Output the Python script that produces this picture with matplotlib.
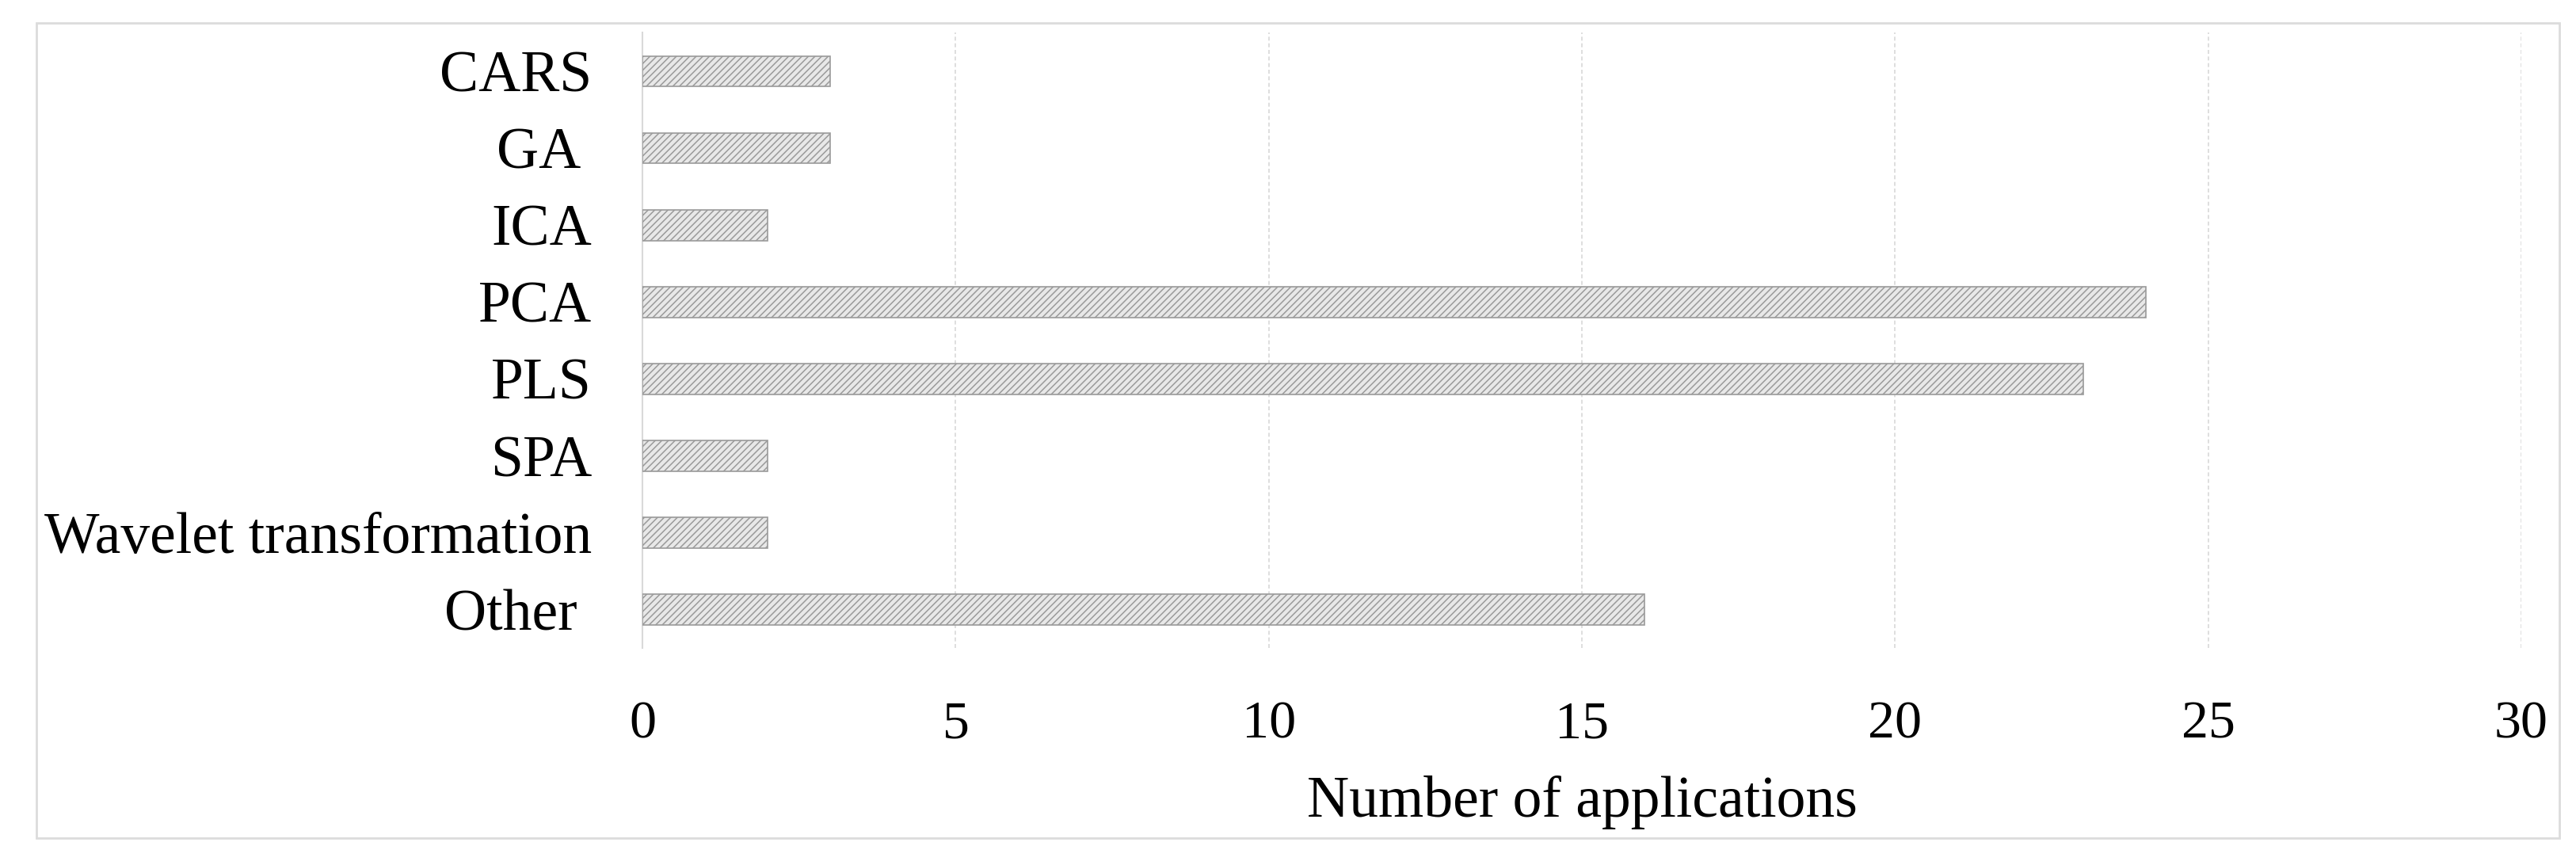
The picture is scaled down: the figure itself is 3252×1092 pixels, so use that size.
import matplotlib
matplotlib.use("Agg")
import matplotlib.pyplot as plt
from matplotlib.patches import Rectangle

categories = ["CARS", "GA ", "ICA", "PCA", "PLS", "SPA", "Wavelet transformation", "Other "]
counts = [3, 3, 2, 24, 23, 2, 2, 16]
xticks = [0, 5, 10, 15, 20, 25, 30]

plt.rcParams['font.family'] = ['Liberation Serif', 'DejaVu Serif']
plt.rcParams['hatch.linewidth'] = 1.1
plt.rcParams['hatch.color'] = '#8a8a8a'

fig = plt.figure(figsize=(32.52, 10.92), dpi=100)
ax = fig.add_axes([0.2494, 0.251, 0.7294, 0.711])

y = list(range(len(categories)))
ax.barh(y, counts, height=0.4, color='#e8e8e8', edgecolor='#9a9a9a', linewidth=1.2,
        hatch='////', zorder=3)
ax.set_ylim(len(categories) - 0.5, -0.5)
ax.set_xlim(0, 30)
ax.set_yticks(y)
ax.set_yticklabels(categories, fontsize=53)
ax.set_xticks(xticks)
ax.set_xticklabels([str(t) for t in xticks], fontsize=49)
ax.tick_params(length=0)
ax.tick_params(axis='y', pad=46)
ax.tick_params(axis='x', pad=48)
ax.grid(axis='x', color='#d8d8d8', ls=(0, (3, 2)), lw=1.2, zorder=0)
for s in ['top', 'right', 'bottom']:
    ax.spines[s].set_visible(False)
ax.spines['left'].set_color('#d9d9d9')
ax.spines['left'].set_linewidth(1.5)
ax.set_xlabel('Number of applications', fontsize=53, labelpad=24)

# outer light frame around the chart
fig.patches.append(Rectangle((46 / 3252, 1 - 1058 / 1092), (3231 - 46) / 3252, (1058 - 29) / 1092,
                             transform=fig.transFigure, fill=False, edgecolor='#dcdcdc', lw=2))

fig.savefig("out.png", dpi=100)
